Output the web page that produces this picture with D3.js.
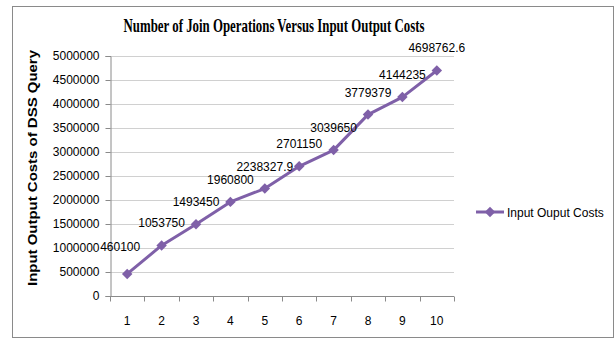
<!DOCTYPE html>
<html>
<head>
<meta charset="utf-8">
<script src="https://cdn.jsdelivr.net/npm/d3@7"></script>
<style>
  html, body { margin: 0; padding: 0; background: #fff; }
  svg { display: block; }
</style>
</head>
<body>
<svg id="chart" width="616" height="341"></svg>
<script>
// Join operation counts and the measured input/output costs
const joinCounts = [1, 2, 3, 4, 5, 6, 7, 8, 9, 10];
const ioCosts = [460100, 1053750, 1493450, 1960800, 2238327.9, 2701150, 3039650, 3779379, 4144235, 4698762.6];
const costLabels = ["460100", "1053750", "1493450", "1960800", "2238327.9", "2701150", "3039650", "3779379", "4144235", "4698762.6"];
const yTicks = [0, 500000, 1000000, 1500000, 2000000, 2500000, 3000000, 3500000, 4000000, 4500000, 5000000];
const seriesName = "Input Ouput Costs";
const chartTitle = "Number of Join Operations Versus Input Output Costs";
const yTitle = "Input Output Costs of DSS Query";

const svg = d3.select("#chart");
const color = "#7f60a8";
const sans = "'Liberation Sans', Arial, sans-serif";

// outer chart frame
svg.append("rect")
  .attr("x", 12.5).attr("y", 6.5)
  .attr("width", 601).attr("height", 331)
  .attr("fill", "#fff").attr("stroke", "#8a8a8a").attr("stroke-width", 1);

const plot = { left: 110, right: 454, top: 56, bottom: 296 };

const x = d3.scaleBand().domain(joinCounts).range([plot.left, plot.right]);
const y = d3.scaleLinear().domain([0, 5000000]).range([plot.bottom, plot.top]);

// horizontal gridlines
svg.append("g")
  .selectAll("line")
  .data(yTicks.filter(d => d > 0))
  .join("line")
  .attr("x1", plot.left).attr("x2", plot.right)
  .attr("y1", d => Math.round(y(d)) + 0.5).attr("y2", d => Math.round(y(d)) + 0.5)
  .attr("stroke", "#d0d0d0").attr("stroke-width", 1);

// y axis
const yAxis = svg.append("g")
  .attr("transform", `translate(${plot.left + 0.5},0)`)
  .call(d3.axisLeft(y).tickValues(yTicks).tickFormat(d3.format("d")).tickSize(5).tickPadding(6));
yAxis.select(".domain").attr("stroke", "#8a8a8a");
yAxis.selectAll(".tick line").attr("stroke", "#8a8a8a");
yAxis.selectAll(".tick text").attr("font-family", sans).attr("font-size", 12).attr("fill", "#000");

// x axis with ticks at category boundaries
const xAxisG = svg.append("g").attr("transform", `translate(0,${plot.bottom + 0.5})`);
xAxisG.append("line")
  .attr("x1", plot.left).attr("x2", plot.right)
  .attr("stroke", "#8a8a8a");
const bounds = joinCounts.map(d => x(d)).concat([x(joinCounts[joinCounts.length - 1]) + x.bandwidth()]);
xAxisG.selectAll("line.tk")
  .data(bounds)
  .join("line").attr("class", "tk")
  .attr("x1", d => Math.round(d) + 0.5).attr("x2", d => Math.round(d) + 0.5)
  .attr("y1", 0).attr("y2", 5)
  .attr("stroke", "#8a8a8a");
xAxisG.selectAll("text")
  .data(joinCounts)
  .join("text")
  .attr("x", d => x(d) + x.bandwidth() / 2)
  .attr("y", 28)
  .attr("text-anchor", "middle")
  .attr("font-family", sans).attr("font-size", 12).attr("fill", "#000")
  .text(d => d);

// series line
const line = d3.line()
  .x((d, i) => x(joinCounts[i]) + x.bandwidth() / 2)
  .y(d => y(d));
svg.append("path")
  .datum(ioCosts)
  .attr("d", line)
  .attr("fill", "none").attr("stroke", color).attr("stroke-width", 3)
  .attr("stroke-linejoin", "round");

// diamond markers
const diamond = d3.symbol().type(d3.symbolDiamond2).size(70);
svg.append("g")
  .selectAll("path")
  .data(ioCosts)
  .join("path")
  .attr("d", diamond)
  .attr("transform", (d, i) => `translate(${x(joinCounts[i]) + x.bandwidth() / 2},${y(d)})`)
  .attr("fill", color);

// value labels above each point (the first one nudged clear of the line)
svg.append("g")
  .selectAll("text")
  .data(ioCosts)
  .join("text")
  .attr("x", (d, i) => x(joinCounts[i]) + x.bandwidth() / 2 - (i === 0 ? 7 : 0))
  .attr("y", (d, i) => y(d) - (i === 0 ? 23 : 18))
  .attr("text-anchor", "middle")
  .attr("font-family", sans).attr("font-size", 12).attr("fill", "#000")
  .text((d, i) => costLabels[i]);

// chart title
svg.append("text")
  .attr("x", 274).attr("y", 32)
  .attr("text-anchor", "middle")
  .attr("font-family", "'Liberation Serif', 'Times New Roman', serif")
  .attr("font-weight", "bold").attr("font-size", 19)
  .attr("textLength", 301).attr("lengthAdjust", "spacingAndGlyphs")
  .text(chartTitle);

// y axis title
svg.append("text")
  .attr("transform", `translate(37,${(plot.top + plot.bottom) / 2 - 8}) rotate(-90)`)
  .attr("text-anchor", "middle")
  .attr("font-family", sans).attr("font-weight", "bold").attr("font-size", 13.5)
  .attr("textLength", 236).attr("lengthAdjust", "spacingAndGlyphs")
  .attr("fill", "#000")
  .text(yTitle);

// legend
const lg = svg.append("g").attr("transform", "translate(476,212)");
lg.append("line").attr("x1", 0).attr("x2", 28).attr("stroke", color).attr("stroke-width", 3);
lg.append("path").attr("d", diamond).attr("transform", "translate(14,0)").attr("fill", color);
lg.append("text")
  .attr("x", 31).attr("y", 4.5)
  .attr("font-family", sans).attr("font-size", 12).attr("fill", "#000")
  .text(seriesName);
</script>
</body>
</html>
